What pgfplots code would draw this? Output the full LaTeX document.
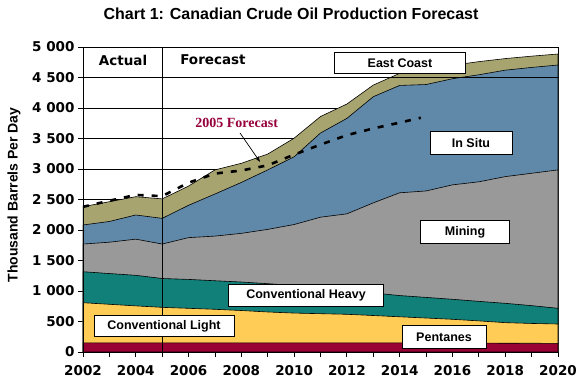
\documentclass[border=0pt]{standalone}
\usepackage{pgfplots}
\pgfplotsset{compat=1.18}
\usepackage{pgfplotstable}
\usetikzlibrary{arrows.meta}
\usepackage{fontspec}
\setmainfont{Liberation Sans}
\newfontfamily\verd{DejaVu Sans}
\newfontfamily\tnr{Liberation Serif}

\definecolor{pent}{RGB}{153,0,51}
\definecolor{lightc}{RGB}{255,204,85}
\definecolor{heavy}{RGB}{16,128,120}
\definecolor{mining}{RGB}{153,153,153}
\definecolor{insitu}{RGB}{96,136,168}
\definecolor{east}{RGB}{168,164,112}
\definecolor{fc}{RGB}{150,0,60}

\pgfplotstableread{
year pent light heavy mining insitu east
2002 150 808 1316 1770 2082 2382
2003 150 782 1286 1800 2140 2464
2004 150 756 1257 1850 2246 2546
2005 150 732 1205 1770 2191 2510
2006 150 716 1190 1875 2405 2720
2007 150 700 1168 1900 2590 2985
2008 150 680 1147 1945 2780 3093
2009 150 656 1120 2010 2985 3245
2010 150 638 1090 2090 3200 3505
2011 150 628 1050 2210 3590 3860
2012 150 618 1010 2265 3830 4065
2013 150 598 968 2445 4185 4376
2014 150 577 925 2610 4370 4568
2015 148 557 895 2640 4385 4610
2016 146 536 864 2740 4480 4700
2017 145 510 830 2790 4545 4760
2018 144 481 798 2875 4620 4810
2019 143 468 760 2930 4665 4850
2020 142 459 716 2985 4705 4885
}\data

\tikzset{lbl/.style={draw=black, fill=white, line width=0.8bp, inner sep=0pt,
  font=\bfseries\fontsize{12.5bp}{14bp}\selectfont}}

\begin{document}
\begin{tikzpicture}
\useasboundingbox (-83bp,-30bp) rectangle (497bp,352bp);
\begin{axis}[at={(0,0)}, anchor=south west, scale only axis,
  width=475bp, height=305bp,
  xmin=2002, xmax=2020, ymin=0, ymax=5000,
  xtick={2002,2004,...,2020},
  xticklabels={2002,2004,2006,2008,2010,2012,2014,2016,2018,2020},
  minor xtick={2003,2005,...,2019},
  ytick={0,500,...,5000},
  yticklabels={0,500,1 000,1 500,2 000,2 500,3 000,3 500,4 000,4 500,5 000},
  tick align=outside, major tick length=5bp, minor tick length=5bp,
  tick pos=left,
  ymajorgrids, grid style={black, line width=0.6bp},
  axis line style={black, line width=0.8bp},
  every tick/.style={black, line width=0.8bp},
  ticklabel style={font=\verd\bfseries\fontsize{13.5bp}{16bp}\selectfont},
  xticklabel style={yshift=-5bp},
]
\addplot[fill=east, draw=black, line width=0.6bp] table[x=year,y=east]{\data} \closedcycle;
\addplot[fill=insitu, draw=black, line width=0.6bp] table[x=year,y=insitu]{\data} \closedcycle;
\addplot[fill=mining, draw=black, line width=0.6bp] table[x=year,y=mining]{\data} \closedcycle;
\addplot[fill=heavy, draw=black, line width=0.6bp] table[x=year,y=heavy]{\data} \closedcycle;
\addplot[fill=lightc, draw=black, line width=0.6bp] table[x=year,y=light]{\data} \closedcycle;
\addplot[fill=pent, draw=black, line width=0.6bp] table[x=year,y=pent]{\data} \closedcycle;
\addplot[black, line width=2.6bp, dash pattern=on 6bp off 8bp] coordinates {
(2002,2380) (2003,2480) (2004,2575) (2005,2555) (2006,2775) (2007,2925)
(2008,2975) (2009,3060) (2010,3235) (2011,3400) (2012,3555) (2013,3665)
(2014,3760) (2014.8,3840)};
\draw[black, line width=0.8bp] (axis cs:2005,0) -- (axis cs:2005,5000);
\draw[black, line width=0.8bp] (axis cs:2002,4500) -- (axis cs:2020,4500);
\draw[-{Stealth[length=6bp,width=4bp]}, black, line width=0.7bp] (axis cs:2007.95,3590) -- (axis cs:2008.71,3115);
\draw[black, line width=0.8bp] (rel axis cs:0,0) rectangle (rel axis cs:1,1);
\end{axis}
\node[font=\bfseries\fontsize{16bp}{18bp}\selectfont] at (208bp,338bp) {Chart 1: Canadian Crude Oil Production Forecast};
\node[rotate=90, font=\bfseries\fontsize{14bp}{16bp}\selectfont] at (-69bp,157bp) {Thousand Barrels Per Day};
\node[font=\verd\bfseries\fontsize{13.5bp}{16bp}\selectfont] at (40bp,292bp) {Actual};
\node[font=\verd\bfseries\fontsize{13.5bp}{16bp}\selectfont] at (130bp,292bp) {Forecast};
\node[font=\tnr\bfseries\fontsize{14bp}{16bp}\selectfont, text=fc] at (153.7bp,228.7bp) {2005 Forecast};
\node[lbl, minimum width=131bp, minimum height=21bp] at (317bp,289bp) {East Coast};
\node[lbl, minimum width=82bp, minimum height=23bp] at (388bp,209bp) {In Situ};
\node[lbl, minimum width=89bp, minimum height=23bp] at (382bp,120bp) {Mining};
\node[lbl, minimum width=155bp, minimum height=22bp] at (223bp,57bp) {Conventional Heavy};
\node[lbl, minimum width=140bp, minimum height=21bp] at (81bp,26bp) {Conventional Light};
\node[lbl, minimum width=84bp, minimum height=23bp] at (361bp,15bp) {Pentanes};
\end{tikzpicture}
\end{document}
